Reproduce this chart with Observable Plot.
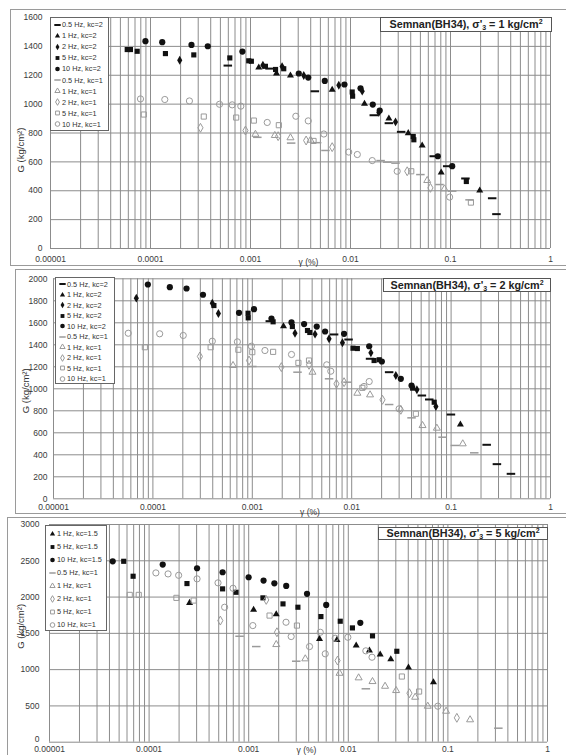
<!DOCTYPE html>
<html><head><meta charset="utf-8">
<script src="https://cdn.jsdelivr.net/npm/d3@7"></script>
<script src="https://cdn.jsdelivr.net/npm/@observablehq/plot@0.6"></script>
<style>
body{margin:0;background:#fff;font-family:"Liberation Sans",Arial,sans-serif;}
#wrap{position:relative;width:566px;height:755px;overflow:hidden;background:#fff;}
.frame{position:absolute;border:1px solid #9a9a9a;border-right:none;box-sizing:border-box;}
.panel{position:absolute;left:0;}
.legend{position:absolute;background:#fff;border:1px solid #666;box-sizing:border-box;font-size:7.3px;color:#333;padding-top:1px;}
.legend .row{display:flex;align-items:center;white-space:nowrap;}
.legend svg{margin-left:3px;margin-right:1px;flex:none;}
.title{position:absolute;background:#fff;border:1px solid #555;box-sizing:border-box;font-weight:bold;font-size:10.8px;color:#222;text-align:center;white-space:nowrap;}
.title sub{font-size:7px;position:relative;top:2px;vertical-align:baseline;line-height:0;}
.title sup{font-size:7px;position:relative;top:-4px;vertical-align:baseline;line-height:0;}
</style></head>
<body><div id="wrap"></div>
<script>
// ---------- axis tick values / labels ----------
const xMajor = [1e-5, 1e-4, 1e-3, 1e-2, 1e-1, 1];
const xTickLabels = ["0.00001", "0.0001", "0.001", "0.01", "0.1", "1"];
const yTicks1 = [0, 200, 400, 600, 800, 1000, 1200, 1400, 1600];
const yTicks2 = [0, 200, 400, 600, 800, 1000, 1200, 1400, 1600, 1800, 2000];
const yTicks3 = [0, 500, 1000, 1500, 2000, 2500, 3000];
const legend12 = ["0.5 Hz, kc=2", "1 Hz, kc=2", "2 Hz, kc=2", "5 Hz, kc=2", "10 Hz, kc=2",
  "0.5 Hz, kc=1", "1 Hz, kc=1", "2 Hz, kc=1", "5 Hz, kc=1", "10 Hz, kc=1"];
const legend3 = ["1 Hz, kc=1.5", "5 Hz, kc=1.5", "10 Hz, kc=1.5",
  "0.5 Hz, kc=1", "1 Hz, kc=1", "2 Hz, kc=1", "5 Hz, kc=1", "10 Hz, kc=1"];

// ---------- Panel 1: sigma'3 = 1 kg/cm2  [gamma (%), G (kg/cm2)] ----------
const p1_05Hz_kc2 = [[5.93e-4,1267],[1.55e-3,1246],[4.4e-3,1089],[1.71e-2,923],[2.42e-2,868],[3.21e-2,808],[0.068,639],[0.0927,570],[0.141,485],[0.261,348],[0.288,238]];
const p1_1Hz_kc2 = [[1.21e-3,1253],[1.82e-3,1212],[2.51e-3,1198],[6.56e-3,1100],[1.38e-2,1002],[2.42e-2,900],[3.78e-2,799],[5.21e-2,713],[8.07e-2,526],[0.196,402]];
const p1_2Hz_kc2 = [[1.96e-4,1304],[1.33e-3,1270],[2.07e-3,1260],[3.41e-3,1198],[7.64e-3,1131],[1.31e-2,1090],[1.92e-2,942],[2.82e-2,877]];
const p1_5Hz_kc2 = [[5.85e-5,1378],[6.3e-5,1378],[7.36e-5,1366],[1.41e-4,1350],[2.71e-4,1341],[6.21e-4,1320],[9.6e-4,1300],[1.02e-3,1297],[1.41e-3,1262],[1.78e-3,1240],[2.15e-3,1245],[1.04e-2,1084],[1.05e-2,1055],[4.24e-2,776],[4.3e-2,753],[0.144,464]];
const p1_10Hz_kc2 = [[8.9e-5,1436],[1.31e-4,1429],[2.57e-4,1410],[3.74e-4,1401],[8.3e-4,1364],[3.04e-3,1212],[3.78e-3,1184],[5.53e-3,1161],[8.7e-3,1136],[1.26e-2,1110],[1.67e-2,997],[1.96e-2,955],[0.0746,639],[0.104,570]];
const p1_05Hz_kc1 = [[1.17e-3,770],[2.55e-3,730],[4.64e-3,733],[5.62e-3,679],[2e-2,609],[2.33e-2,598],[2.82e-2,591],[5e-2,512],[7.76e-2,443],[0.104,397],[0.155,337]];
const p1_1Hz_kc1 = [[1.12e-3,791],[1.75e-3,783],[2.51e-3,767],[3.98e-3,750],[5.85e-2,471],[8.7e-2,413]];
const p1_2Hz_kc1 = [[3.16e-4,836],[8.9e-4,817],[1.89e-3,778],[3.6e-3,748],[6.56e-3,702],[3.69e-2,535],[6.3e-2,420]];
const p1_5Hz_kc1 = [[8.57e-5,928],[3.41e-4,914],[7.19e-4,907],[1.08e-3,886],[1.92e-3,854],[4.27e-3,745],[4.05e-2,535],[0.16,318]];
const p1_10Hz_kc1 = [[7.94e-5,1036],[1.39e-4,1032],[2.45e-4,1022],[4.9e-4,999],[6.56e-4,995],[8e-4,986],[1.47e-3,873],[2.84e-3,916],[3.78e-3,884],[5.41e-3,793],[9.6e-3,668],[1.17e-2,651],[1.65e-2,609],[2.93e-2,535],[9.8e-2,356]];

// ---------- Panel 2: sigma'3 = 2 kg/cm2 ----------
const p2_05Hz_kc2 = [[1.5e-3,1615],[6.65e-3,1494],[9.3e-3,1448],[1.53e-2,1273],[2.38e-2,1151],[5.08e-2,939],[6.03e-2,903],[9.96e-2,766],[0.228,491],[0.289,315],[0.4,227]];
const p2_1Hz_kc2 = [[2.06e-3,1569],[0.124,675]];
const p2_2Hz_kc2 = [[6.81e-5,1824],[3.96e-4,1778],[4.56e-4,1685],[2.69e-3,1505],[4.28e-3,1497],[5.92e-3,1455],[8.07e-3,1418],[1.56e-2,1327],[2.78e-2,1121],[4.53e-2,991],[7.03e-2,839]];
const p2_5Hz_kc2 = [[4.11e-4,1757],[9.06e-4,1687],[9.1e-4,1645],[1.62e-3,1609],[2.53e-3,1566],[3.59e-3,1530],[3.79e-3,1512],[1.03e-2,1369],[1.14e-2,1366],[1.68e-2,1257],[1.89e-2,1264],[4.1e-2,1006],[6.76e-2,878]];
const p2_10Hz_kc2 = [[8.9e-5,1948],[1.48e-4,1924],[2.18e-4,1912],[3.19e-4,1855],[7.35e-4,1691],[1.04e-3,1724],[1.56e-3,1639],[2.48e-3,1603],[3.32e-3,1588],[4.45e-3,1566],[5.4e-3,1521],[8.38e-3,1500],[1.5e-2,1387],[2.01e-2,1248],[3.12e-2,1091],[4.0e-2,1030]];
const p2_05Hz_kc1 = [[1.0e-3,1203],[2.85e-3,1151],[5.92e-3,1091],[9.07e-3,1060],[2.38e-2,857],[4.0e-2,736],[8.2e-2,560],[0.109,485],[0.171,418]];
const p2_1Hz_kc1 = [[6.4e-4,1212],[4.03e-3,1151],[1.14e-2,960],[1.53e-2,945],[5.16e-2,666],[7.19e-2,642],[0.131,500]];
const p2_2Hz_kc1 = [[2.97e-4,1294],[9.27e-4,1257],[1.96e-3,1197],[3.72e-3,1218],[7.03e-3,1045],[8.38e-3,1060],[2.04e-2,900],[3.12e-2,809]];
const p2_5Hz_kc1 = [[8.3e-5,1378],[3.81e-4,1378],[7.24e-4,1355],[1.0e-3,1333],[1.62e-3,1336],[2.91e-3,1236],[3.72e-3,1257],[1.28e-2,1009],[4.42e-2,773]];
const p2_10Hz_kc1 = [[5.65e-5,1505],[1.17e-4,1500],[2.02e-4,1485],[3.96e-4,1433],[7.08e-4,1427],[9.79e-4,1387],[1.34e-3,1348],[2.48e-3,1312],[5.61e-3,1218],[6.16e-3,1160],[1.33e-2,1021],[1.5e-2,1066],[3.0e-2,818]];

// ---------- Panel 3: sigma'3 = 5 kg/cm2 ----------
const p3_1Hz_kc15 = [[2.55e-4,1920],[1.12e-3,1824],[1.89e-3,1762],[5.14e-3,1424],[7.69e-3,1410],[1.20e-2,1332],[1.63e-2,1263],[2.09e-2,1208],[2.67e-2,1143],[4.02e-2,1029],[7.16e-2,826]];
const p3_5Hz_kc15 = [[5.56e-5,2493],[6.91e-5,2287],[2.40e-4,2186],[5.47e-4,2113],[7.46e-4,2066],[1.39e-3,1989],[2.21e-3,1906],[3.12e-3,1860],[5.31e-3,1731],[8.3e-3,1667],[1.10e-2,1575],[1.75e-2,1465],[3.07e-2,1253]];
const p3_10Hz_kc15 = [[4.31e-5,2493],[1.37e-4,2448],[3.03e-4,2397],[5.47e-4,2342],[9.98e-4,2273],[1.41e-3,2227],[1.81e-3,2190],[2.38e-3,2154],[3.85e-3,2044],[6.0e-3,1892],[1.32e-2,1645]];
const p3_05Hz_kc1 = [[8.1e-4,1460],[1.19e-3,1318],[3.0e-3,1116],[1.50e-2,736],[0.321,193]];
const p3_1Hz_kc1 = [[1.89e-3,1346],[3.70e-3,1149],[8.17e-3,950],[1.27e-2,887],[1.75e-2,836],[2.34e-2,771],[3.02e-2,712],[4.69e-2,620],[6.28e-2,496],[9.59e-2,427],[0.167,309]];
const p3_2Hz_kc1 = [[5.19e-4,1676],[1.50e-3,1961],[1.92e-3,1515],[7.8e-3,1125],[4.11e-2,675],[0.123,336]];
const p3_5Hz_kc1 = [[6.39e-5,2030],[7.87e-5,2030],[1.88e-4,1989],[2.80e-4,1952],[1.62e-3,1745],[3.05e-3,1607],[3.45e-2,905],[5.14e-2,698]];
const p3_10Hz_kc1 = [[1.17e-4,2333],[1.55e-4,2319],[1.98e-4,2300],[3.03e-4,2251],[4.92e-4,2196],[5.73e-4,1860],[6.96e-4,2121],[1.10e-3,1607],[2.37e-3,1653],[2.67e-3,1456],[4.08e-3,1318],[5.23e-3,1515],[5.87e-3,1218],[7.39e-3,1433],[9.9e-3,1446],[1.50e-2,1259],[1.73e-2,1171],[7.92e-2,496]];

// ---------- styling helpers ----------
const BLACK = "#111", GRAY = "#9a9a9a", GRID = "#8c8c8c";
const dashSym = {draw(ctx, size) { const w = Math.sqrt(size) * 0.75; ctx.moveTo(-w, 0); ctx.lineTo(w, 0); }};
const SYM = {
  dash: {plot: dashSym, d3: dashSym, r: 3.2},
  tri: {plot: "triangle", d3: d3.symbolTriangle, r: 2.6},
  dia: {plot: "diamond", d3: d3.symbolDiamond, r: 2.7},
  sq: {plot: "square", d3: d3.symbolSquare, r: 2.9},
  circ: {plot: "circle", d3: d3.symbolCircle, r: 3.1}
};
function style(sym, filled) {
  const s = SYM[sym];
  if (sym === "dash") return {symbol: s.plot, r: s.r, fill: "none", stroke: filled ? BLACK : GRAY, strokeWidth: filled ? 2 : 1.5};
  return filled ? {symbol: s.plot, r: s.r, fill: BLACK, stroke: "none"}
                : {symbol: s.plot, r: s.r, fill: "none", stroke: GRAY, strokeWidth: 1};
}

const xGrid = [];
for (let e = -5; e < 0; e++) for (let m = 1; m <= 9; m++) xGrid.push(+(m * Math.pow(10, e)).toPrecision(3));
xGrid.push(1);

const panels = [
  {top: 10, height: 255, mL: 50, mR: 16, mT: 7, mB: 17, yMax: 1600, yTicks: yTicks1, padX: 7, padY: 8, zeroDy: 0,
   gLab: {dx: -30, dy: 17}, gamma: {dx: 8, dy: 14},
   frame: {left: 10, top: 9, height: 257},
   title: {left: 380, top: 17, width: 172, height: 15, s: "1"},
   legend: {left: 50, top: 17, width: 59, height: 114, row: 11.1, labels: legend12},
   series: [
     [p1_05Hz_kc2, "dash", true], [p1_1Hz_kc2, "tri", true], [p1_2Hz_kc2, "dia", true], [p1_5Hz_kc2, "sq", true], [p1_10Hz_kc2, "circ", true],
     [p1_05Hz_kc1, "dash", false], [p1_1Hz_kc1, "tri", false], [p1_2Hz_kc1, "dia", false], [p1_5Hz_kc1, "sq", false], [p1_10Hz_kc1, "circ", false]]},
  {top: 270, height: 243, mL: 53, mR: 16, mT: 8.3, mB: 14.7, yMax: 2000, yTicks: yTicks2, padX: 5.5, padY: 6, zeroDy: 0,
   gLab: {dx: -28, dy: 2}, gamma: {dx: 8, dy: 13},
   frame: {left: 15, top: 269, height: 245},
   title: {left: 383, top: 278, width: 168, height: 14, s: "2"},
   legend: {left: 55, top: 277, width: 60, height: 107, row: 10.5, labels: legend12},
   series: [
     [p2_05Hz_kc2, "dash", true], [p2_1Hz_kc2, "tri", true], [p2_2Hz_kc2, "dia", true], [p2_5Hz_kc2, "sq", true], [p2_10Hz_kc2, "circ", true],
     [p2_05Hz_kc1, "dash", false], [p2_1Hz_kc1, "tri", false], [p2_2Hz_kc1, "dia", false], [p2_5Hz_kc1, "sq", false], [p2_10Hz_kc1, "circ", false]]},
  {top: 518, height: 237, mL: 49, mR: 19, mT: 6, mB: 13.3, yMax: 3000, yTicks: yTicks3, padX: 3.5, padY: 10, zeroDy: -3,
   gLab: {dx: -29, dy: -7}, gamma: {dx: 8, dy: 8.5},
   frame: {left: 7, top: 517, height: 260},
   title: {left: 378, top: 527, width: 170, height: 13, s: "5"},
   legend: {left: 45, top: 525, width: 62, height: 106, row: 13, labels: legend3},
   series: [
     [p3_1Hz_kc15, "tri", true], [p3_5Hz_kc15, "sq", true], [p3_10Hz_kc15, "circ", true],
     [p3_05Hz_kc1, "dash", false], [p3_1Hz_kc1, "tri", false], [p3_2Hz_kc1, "dia", false], [p3_5Hz_kc1, "sq", false], [p3_10Hz_kc1, "circ", false]]}
];

const wrap = document.getElementById("wrap");

for (const P of panels) {
  const fr = document.createElement("div");
  fr.className = "frame";
  Object.assign(fr.style, {left: P.frame.left + "px", top: P.frame.top + "px", width: (566 - P.frame.left) + "px", height: P.frame.height + "px"});
  wrap.appendChild(fr);
}

for (const P of panels) {
  const chart = Plot.plot({
    width: 566, height: P.height,
    marginLeft: P.mL, marginRight: P.mR, marginTop: P.mT, marginBottom: P.mB,
    style: {fontFamily: "'Liberation Sans', Arial, sans-serif", fontSize: "8.5px", color: "#3a3a3a", background: "transparent", overflow: "visible"},
    x: {type: "log", domain: [1e-5, 1]},
    y: {domain: [0, P.yMax]},
    marks: [
      Plot.gridX(xGrid, {stroke: GRID, strokeOpacity: 1, strokeWidth: 1}),
      Plot.gridY(P.yTicks, {stroke: GRID, strokeOpacity: 1, strokeWidth: 1}),
      Plot.axisX(xMajor, {tickSize: 0, tickPadding: P.padX, label: null, tickFormat: d => xTickLabels[xMajor.indexOf(d)]}),
      Plot.axisY(P.yTicks.filter(v => v !== 0), {tickSize: 0, tickPadding: P.padY, label: null, tickFormat: d => String(d)}),
      Plot.axisY([0], {tickSize: 0, tickPadding: P.padY, label: null, tickFormat: d => String(d), dy: P.zeroDy}),
      ...P.series.map(([data, sym, filled]) => Plot.dot(data, {x: d => d[0], y: d => d[1], ...style(sym, filled)})),
      Plot.text(["γ (%)"], {text: d => d, frameAnchor: "bottom", lineAnchor: "middle", dx: P.gamma.dx, dy: P.gamma.dy, fontSize: 8.5, fill: "#333"}),
      Plot.text(["G (kg/cm²)"], {text: d => d, frameAnchor: "left", lineAnchor: "middle", textAnchor: "middle", rotate: -90, dx: P.gLab.dx, dy: P.gLab.dy, fontSize: 9.5, fill: "#333"})
    ]
  });
  chart.classList.add("panel");
  chart.style.top = P.top + "px";
  wrap.appendChild(chart);

  // title box
  const t = document.createElement("div");
  t.className = "title";
  Object.assign(t.style, {left: P.title.left + "px", top: P.title.top + "px", width: P.title.width + "px", height: P.title.height + "px", lineHeight: (P.title.height - 2) + "px"});
  t.innerHTML = `Semnan(BH34), σ'<sub>3</sub> = ${P.title.s} kg/cm<sup>2</sup>`;
  wrap.appendChild(t);

  // legend box
  const L = document.createElement("div");
  L.className = "legend";
  Object.assign(L.style, {left: P.legend.left + "px", top: P.legend.top + "px", width: P.legend.width + "px", height: P.legend.height + "px"});
  P.series.forEach(([data, sym, filled], i) => {
    const row = document.createElement("div");
    row.className = "row";
    row.style.height = P.legend.row + "px";
    const st = style(sym, filled);
    const area = Math.PI * Math.pow(SYM[sym].r * 0.75, 2);
    const d = d3.symbol(SYM[sym].d3, area)();
    const fill = st.fill, stroke = st.stroke, sw = st.strokeWidth || 0;
    row.innerHTML = `<svg width="7" height="8"><path d="${d}" transform="translate(3.5,4)" fill="${fill}" stroke="${stroke}" stroke-width="${sw}"/></svg><span>${P.legend.labels[i]}</span>`;
    L.appendChild(row);
  });
  wrap.appendChild(L);
}
</script>
</body></html>
